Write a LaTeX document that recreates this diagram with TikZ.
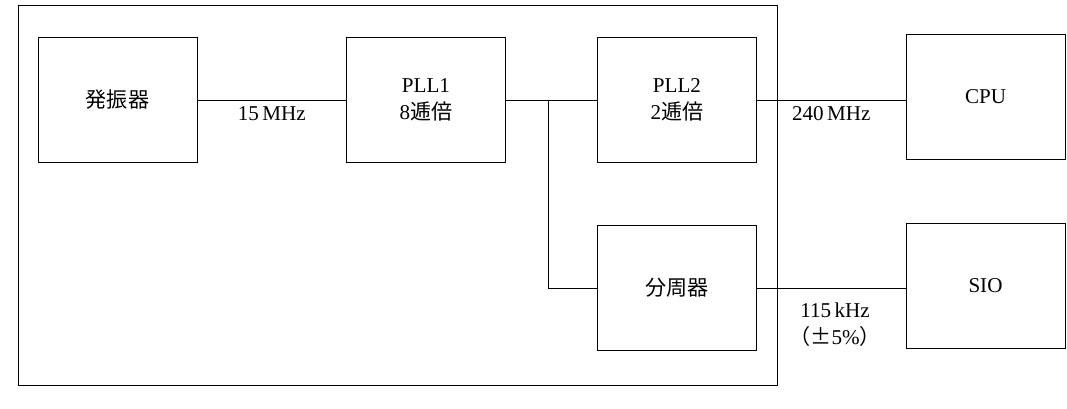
\documentclass[tikz,border=0pt]{standalone}
\usepackage{fontspec}
\setmainfont{Liberation Serif}
\newfontfamily\jp{Noto Sans CJK JP}
\usetikzlibrary{positioning}
\tikzset{
block/.style={draw, thick, minimum width=4.77cm, minimum height=3.75cm, align=center, font=\fontsize{18}{23}\selectfont}, % boxes
lab/.style={font=\fontsize{18}{23}\selectfont}, % frequency labels
wire/.style={thick}
}
\begin{document}
\begin{tikzpicture}[x=0.03cm, y=-0.03cm]
    \useasboundingbox (0,0) rectangle (1067,408);
    \draw[thick] (18,5) rectangle (777,385);
    \node[block] (osc) at (117.5,100) {\jp 発振器};
    \node[block] (pll1) at (426,100) {PLL1\\8{\jp 逓倍}};
    \node[block] (pll2) at (677,100) {PLL2\\2{\jp 逓倍}};
    \node[block] (div) at (677,288) {\jp 分周器};
    \node[block] (cpu) at (985.5,97) {CPU};
    \node[block] (sio) at (985.5,286) {SIO};
    \coordinate (br) at (548,100);
    \draw[wire] (osc) -- node[lab, below=2pt]{15\,MHz} (pll1);
    \draw[wire] (pll1) -- (pll2);
    \draw[wire] (br) |- (div);
    \draw[wire] (pll2.east) -- node[lab, below=2pt]{240\,MHz} (cpu.west |- pll2.east);
    \draw[wire] (div.east) -- (sio.west |- div.east);
    \node[lab, align=center] (f3) at (835,325) {115\,kHz\\{\jp （±}5\%{\jp ）}};
\end{tikzpicture}
\end{document}
